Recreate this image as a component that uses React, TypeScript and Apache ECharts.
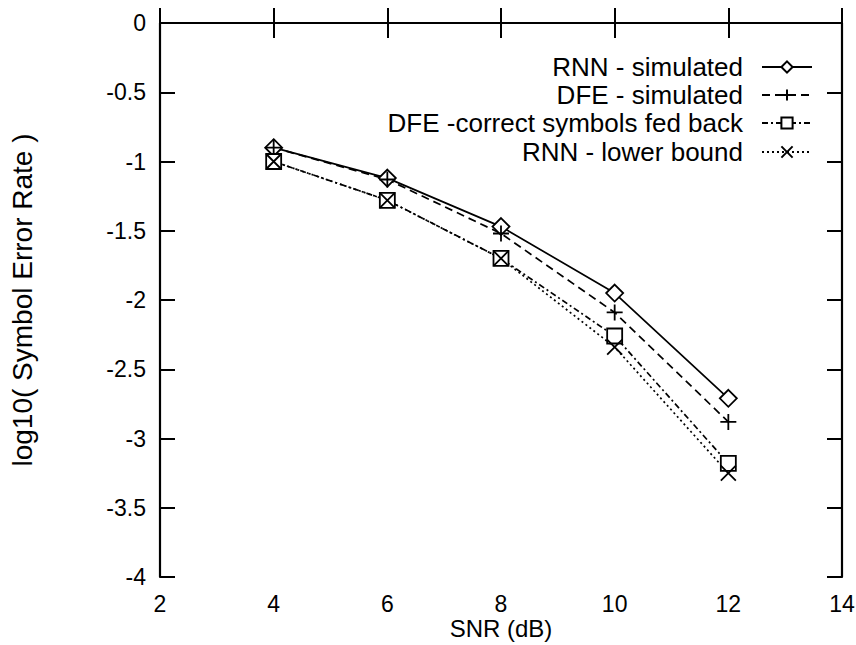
import React, { useEffect, useRef } from "react";
import * as echarts from "echarts";

const snr = [4, 6, 8, 10, 12];
const rnnSimulated = [-0.9, -1.12, -1.47, -1.95, -2.71];
const dfeSimulated = [-0.9, -1.13, -1.52, -2.09, -2.88];
const dfeCorrect = [-1.0, -1.28, -1.7, -2.26, -3.18];
const rnnLowerBound = [-1.0, -1.28, -1.7, -2.34, -3.25];

const seriesNames = [
  "RNN - simulated",
  "DFE - simulated",
  "DFE -correct symbols fed back",
  "RNN - lower bound",
];

const FONT = "'Liberation Sans', Arial, Helvetica, sans-serif";

const PLUS = "path://M0,5H10M5,0V10";
const CROSS = "path://M0,0L10,10M10,0L0,10";

export default function App() {
  const ref = useRef<HTMLDivElement>(null);
  useEffect(() => {
    if (!ref.current) return;
    const chart = echarts.init(ref.current, null, { renderer: "svg" });
    const pair = (ys: number[]) => snr.map((x, i) => [x, ys[i]]);
    const mkSeries = (
      name: string,
      ys: number[],
      symbol: string,
      size: number,
      dash: any
    ) => ({
      name,
      type: "line",
      data: pair(ys),
      symbol,
      symbolSize: size,
      showSymbol: true,
      lineStyle: { color: "#000", width: 1.7, type: dash },
      itemStyle: { color: "#fff", borderColor: "#000", borderWidth: 1.8 },
      emphasis: { disabled: true },
      z: 3,
    });
    const legendTops = [49, 77, 105, 134];
    const legends = seriesNames.map((n, i) => ({
      data: [n],
      right: 38,
      top: legendTops[i],
      align: "right",
      itemWidth: 50,
      itemHeight: 14,
      selectedMode: false,
      textStyle: {
        fontFamily: FONT,
        fontSize: 26,
        color: "#000",
        padding: [0, 14, 0, 0],
      },
    }));
    chart.setOption({
      animation: false,
      backgroundColor: "#fff",
      textStyle: { fontFamily: FONT },
      legend: legends,
      grid: {
        left: 160,
        top: 23,
        right: 14,
        bottom: 68,
        containLabel: false,
        outerBoundsMode: "none",
      },
      xAxis: [
        {
          type: "value",
          min: 2,
          max: 14,
          interval: 2,
          name: "SNR (dB)",
          nameLocation: "middle",
          nameGap: 39,
          nameMoveOverlap: false,
          nameTextStyle: { fontFamily: FONT, fontSize: 24, color: "#000" },
          axisLine: { lineStyle: { color: "#000", width: 2.2 } },
          axisTick: { inside: true, length: 15, lineStyle: { color: "#000", width: 2 } },
          axisLabel: { fontFamily: FONT, fontSize: 23, color: "#000", margin: 15 },
          splitLine: { show: false },
        },
        {
          type: "value",
          position: "top",
          min: 2,
          max: 14,
          interval: 2,
          axisLine: { lineStyle: { color: "#000", width: 2.2 } },
          axisTick: { inside: true, length: 15, lineStyle: { color: "#000", width: 2 } },
          axisLabel: { show: false },
          splitLine: { show: false },
        },
      ],
      yAxis: [
        {
          type: "value",
          min: -4,
          max: 0,
          interval: 0.5,
          name: "log10( Symbol Error Rate )",
          nameLocation: "middle",
          nameGap: 124,
          nameMoveOverlap: false,
          nameRotate: 90,
          nameTextStyle: { fontFamily: FONT, fontSize: 28, color: "#000" },
          axisLine: { lineStyle: { color: "#000", width: 2.2 } },
          axisTick: { inside: true, length: 15, lineStyle: { color: "#000", width: 2 } },
          axisLabel: { fontFamily: FONT, fontSize: 23, color: "#000", margin: 14 },
          splitLine: { show: false },
        },
        {
          type: "value",
          position: "right",
          min: -4,
          max: 0,
          interval: 0.5,
          axisLine: { lineStyle: { color: "#000", width: 2.2 } },
          axisTick: { inside: true, length: 15, lineStyle: { color: "#000", width: 2 } },
          axisLabel: { show: false },
          splitLine: { show: false },
        },
      ],
      series: [
        mkSeries(seriesNames[0], rnnSimulated, "diamond", 17, "solid"),
        mkSeries(seriesNames[1], dfeSimulated, PLUS, 16, [8, 5]),
        mkSeries(seriesNames[2], dfeCorrect, "rect", 15, [6, 3, 2, 3]),
        mkSeries(seriesNames[3], rnnLowerBound, CROSS, 15, [2, 3]),
      ],
    });
    return () => chart.dispose();
  }, []);
  return <div ref={ref} style={{ width: 856, height: 645, position: "absolute", left: 0, top: 0 }} />;
}
